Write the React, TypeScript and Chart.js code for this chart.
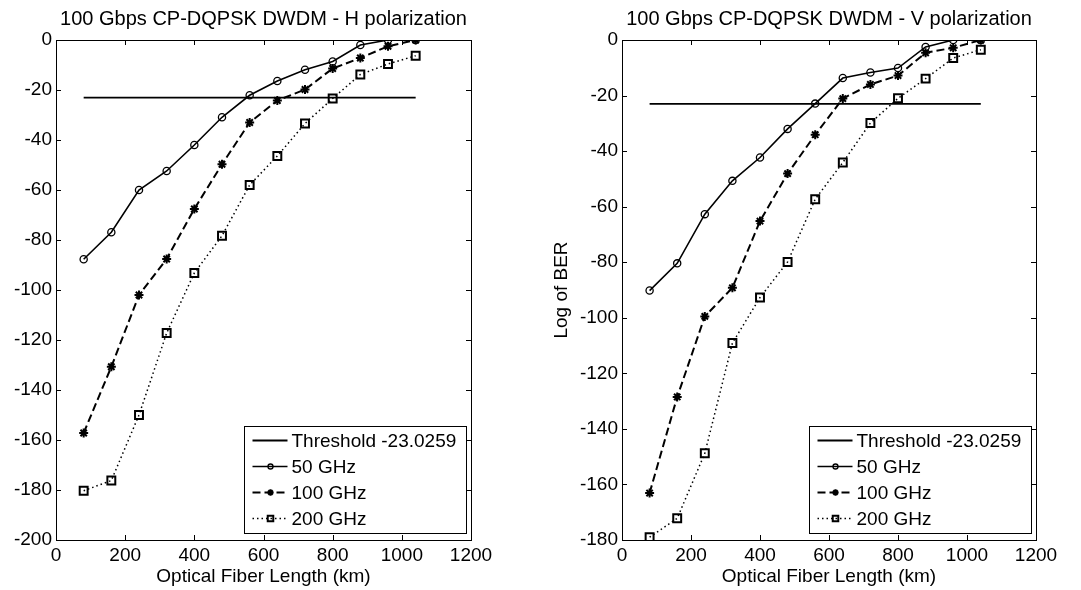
import React, { useEffect, useRef } from 'react';
import { Chart, registerables } from 'chart.js';

Chart.register(...registerables);

const FONT = '"Liberation Sans", Arial, Helvetica, sans-serif';

// ---- data ----
const fiberLengthKm = [80, 160, 240, 320, 400, 480, 560, 640, 720, 800, 880, 960, 1040];
const thresholdLog = -23.0259;
const thresholdSpanKm = [80, 1040];
const seriesLabels = ['Threshold -23.0259', '50 GHz', '100 GHz', '200 GHz'];

const hPol50 = [-87.7, -76.9, -60.0, -52.4, -42.0, -30.9, -22.1, -16.4, -11.9, -8.6, -2.0, 0, 0];
const hPol100 = [-157.2, -130.7, -102.0, -87.6, -67.6, -49.7, -33.0, -24.2, -19.8, -11.4, -7.2, -2.5, 0];
const hPol200 = [-180.3, -176.2, -150.0, -117.2, -93.2, -78.3, -58.0, -46.4, -33.4, -23.4, -13.8, -9.6, -6.3];

const vPol50 = [-90.2, -80.4, -62.7, -50.7, -42.3, -32.0, -22.9, -13.7, -11.7, -10.1, -2.5, 0, 0];
const vPol100 = [-163.1, -128.5, -99.5, -89.2, -65.2, -48.1, -34.1, -21.1, -16.0, -12.8, -4.6, -2.8, 0];
const vPol200 = [-179.0, -172.2, -148.8, -109.1, -92.7, -79.9, -57.3, -44.1, -29.9, -21.0, -13.9, -6.5, -3.5];

const xTickValues = [0, 200, 400, 600, 800, 1000, 1200];
const yTickValuesH = [0, -20, -40, -60, -80, -100, -120, -140, -160, -180, -200];
const yTickValuesV = [0, -20, -40, -60, -80, -100, -120, -140, -160, -180];

const titleH = '100 Gbps CP-DQPSK DWDM - H polarization';
const titleV = '100 Gbps CP-DQPSK DWDM - V polarization';
const xAxisTitle = 'Optical Fiber Length (km)';
const yAxisTitleV = 'Log of BER';

// ---- styles ----
type MarkerStyle = 'none' | 'circle' | 'star' | 'rect';
const seriesStyles: { dash: number[]; width: number; marker: MarkerStyle; radius: number; markerWidth: number }[] = [
  { dash: [], width: 1.8, marker: 'none', radius: 0, markerWidth: 1 },
  { dash: [], width: 1.6, marker: 'circle', radius: 3.6, markerWidth: 1.3 },
  { dash: [8, 4], width: 2, marker: 'star', radius: 4.5, markerWidth: 2 },
  { dash: [1.5, 3], width: 1.5, marker: 'rect', radius: 5.6, markerWidth: 2 },
];

function drawMarker(ctx: CanvasRenderingContext2D, m: MarkerStyle, x: number, y: number, r: number) {
  ctx.beginPath();
  if (m === 'circle') {
    ctx.arc(x, y, r, 0, Math.PI * 2);
  } else if (m === 'star') {
    const d = r * Math.SQRT1_2;
    ctx.moveTo(x, y - r); ctx.lineTo(x, y + r);
    ctx.moveTo(x - r, y); ctx.lineTo(x + r, y);
    ctx.moveTo(x - d, y - d); ctx.lineTo(x + d, y + d);
    ctx.moveTo(x - d, y + d); ctx.lineTo(x + d, y - d);
  } else if (m === 'rect') {
    const s = r * Math.SQRT1_2;
    ctx.rect(x - s, y - s, 2 * s, 2 * s);
  }
  ctx.stroke();
}

const matlabPlugin = {
  id: 'matlabDecor',
  afterDraw(chart: any, _args: any, opts: any) {
    const ctx: CanvasRenderingContext2D = chart.ctx;
    const { left, right, top, bottom } = chart.chartArea;
    const xs = chart.scales.x;
    const ys = chart.scales.y;
    ctx.save();
    // box
    ctx.strokeStyle = '#000';
    ctx.lineWidth = 1;
    ctx.setLineDash([]);
    ctx.strokeRect(Math.round(left) + 0.5, Math.round(top) + 0.5, Math.round(right - left), Math.round(bottom - top));
    // inward ticks
    const tl = 5;
    ctx.beginPath();
    xs.ticks.forEach((t: any) => {
      const px = Math.round(xs.getPixelForValue(t.value)) + 0.5;
      ctx.moveTo(px, bottom); ctx.lineTo(px, bottom - tl);
      ctx.moveTo(px, top); ctx.lineTo(px, top + tl);
    });
    ys.ticks.forEach((t: any) => {
      const py = Math.round(ys.getPixelForValue(t.value)) + 0.5;
      ctx.moveTo(left, py); ctx.lineTo(left + tl, py);
      ctx.moveTo(right, py); ctx.lineTo(right - tl, py);
    });
    ctx.stroke();

    // title
    ctx.fillStyle = '#000';
    ctx.font = `20px ${FONT}`;
    ctx.textAlign = 'center';
    ctx.textBaseline = 'alphabetic';
    ctx.fillText(opts.title, (left + right) / 2, 25);

    // legend
    const bw = 222, bh = 107;
    const bx = Math.round(right - 5 - bw) + 0.5;
    const by = Math.round(bottom - 7 - bh) + 0.5;
    ctx.fillStyle = '#fff';
    ctx.fillRect(bx, by, bw, bh);
    ctx.strokeStyle = '#000';
    ctx.lineWidth = 1;
    ctx.strokeRect(bx, by, bw, bh);
    ctx.font = `19px ${FONT}`;
    ctx.textAlign = 'left';
    ctx.textBaseline = 'middle';
    chart.data.datasets.forEach((ds: any, i: number) => {
      const st = seriesStyles[i];
      const cy = by + 14 + i * 26;
      ctx.strokeStyle = '#000';
      ctx.lineWidth = st.width;
      ctx.setLineDash(st.dash);
      ctx.beginPath();
      ctx.moveTo(bx + 8, cy);
      ctx.lineTo(bx + 43, cy);
      ctx.stroke();
      ctx.setLineDash([]);
      if (st.marker !== 'none') {
        ctx.lineWidth = st.markerWidth;
        drawMarker(ctx, st.marker, bx + 26, cy, st.radius * 0.7);
      }
      ctx.fillStyle = '#000';
      ctx.fillText(ds.label, bx + 47, cy + 1);
    });
    ctx.restore();
  },
};

type PanelProps = {
  title: string;
  yTitle?: string;
  s50: number[];
  s100: number[];
  s200: number[];
  yTicks: number[];
  yAxisWidth: number;
  padRight: number;
  width: number;
  left: number;
};

function Panel(p: PanelProps) {
  const ref = useRef<HTMLCanvasElement>(null);
  useEffect(() => {
    const toPts = (arr: number[]) => arr.map((v, i) => ({ x: fiberLengthKm[i], y: v }));
    const series = [
      thresholdSpanKm.map((x) => ({ x, y: thresholdLog })),
      toPts(p.s50),
      toPts(p.s100),
      toPts(p.s200),
    ];
    const datasets = series.map((data, i) => {
      const st = seriesStyles[i];
      return {
        label: seriesLabels[i],
        data,
        borderColor: '#000',
        backgroundColor: 'rgba(0,0,0,0)',
        borderWidth: st.width,
        borderDash: st.dash,
        pointStyle: st.marker === 'none' ? 'circle' : st.marker,
        pointRadius: st.radius,
        pointBorderWidth: st.markerWidth,
        pointBorderColor: '#000',
        pointBackgroundColor: 'rgba(0,0,0,0)',
        tension: 0,
        fill: false,
      };
    });
    const yMin = Math.min(...p.yTicks);
    const yMax = Math.max(...p.yTicks);
    const chart = new Chart(ref.current as HTMLCanvasElement, {
      type: 'line',
      data: { datasets: datasets as any },
      plugins: [matlabPlugin as any],
      options: {
        animation: false,
        responsive: false,
        devicePixelRatio: 1,
        layout: { padding: { top: 40, right: p.padRight, bottom: 0, left: 0 } },
        plugins: {
          legend: { display: false },
          tooltip: { enabled: false },
          title: { display: false },
          matlabDecor: { title: p.title },
        } as any,
        scales: {
          x: {
            type: 'linear',
            min: 0,
            max: 1200,
            afterBuildTicks: (s: any) => { s.ticks = xTickValues.map((v) => ({ value: v })); },
            afterFit: (s: any) => { s.height = 50; },
            grid: { display: false, drawTicks: false },
            border: { display: false },
            ticks: {
              color: '#000',
              padding: 4,
              font: { family: FONT, size: 19 },
              maxRotation: 0,
              autoSkip: false,
              callback: (v: any) => String(v),
            },
            title: {
              display: true,
              text: xAxisTitle,
              color: '#000',
              font: { family: FONT, size: 19 },
              padding: { top: 0, bottom: 2 },
            },
          },
          y: {
            type: 'linear',
            min: yMin,
            max: yMax,
            afterBuildTicks: (s: any) => { s.ticks = p.yTicks.map((v) => ({ value: v })); },
            afterFit: (s: any) => { s.width = p.yAxisWidth; },
            grid: { display: false, drawTicks: false },
            border: { display: false },
            ticks: {
              color: '#000',
              padding: 4,
              font: { family: FONT, size: 19 },
              autoSkip: false,
              callback: (v: any) => String(v),
            },
            title: {
              display: !!p.yTitle,
              text: p.yTitle || '',
              color: '#000',
              font: { family: FONT, size: 19 },
              padding: { top: 10, bottom: 0 },
            },
          },
        },
      },
    });
    return () => chart.destroy();
  }, []);
  return (
    <canvas
      ref={ref}
      width={p.width}
      height={590}
      style={{ position: 'absolute', left: p.left, top: 0, width: p.width, height: 590 }}
    />
  );
}

export default function App() {
  return (
    <div style={{ position: 'absolute', left: 0, top: 0, width: 1081, height: 590, background: '#fff', overflow: 'hidden' }}>
      <Panel title={titleH} s50={hPol50} s100={hPol100} s200={hPol200} yTicks={yTickValuesH} yAxisWidth={56} padRight={69} width={540} left={0} />
      <Panel title={titleV} yTitle={yAxisTitleV} s50={vPol50} s100={vPol100} s200={vPol200} yTicks={yTickValuesV} yAxisWidth={82} padRight={45} width={541} left={540} />
    </div>
  );
}
